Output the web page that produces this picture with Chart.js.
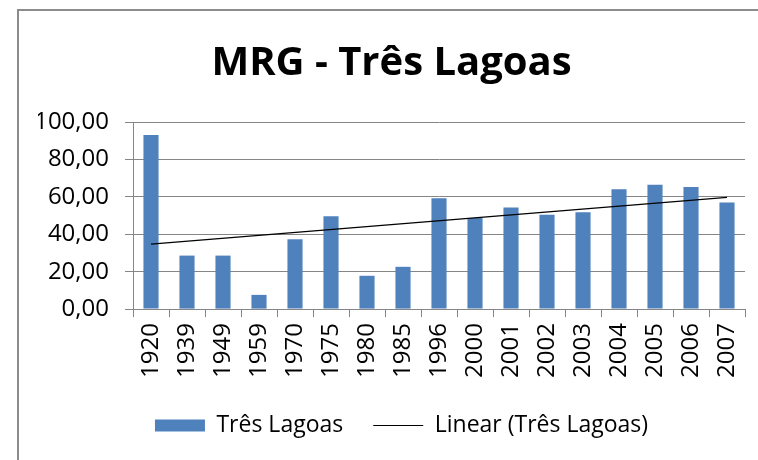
<!DOCTYPE html>
<html>
<head>
<meta charset="utf-8">
<script src="https://cdn.jsdelivr.net/npm/chart.js@4"></script>
<style>
  html, body { margin: 0; padding: 0; background: #fff; overflow: hidden; }
  #box {
    position: absolute; left: 17px; top: 9px;
    width: 741px; height: 451px;
    border-left: 2px solid #8c8c8c;
    border-top: 2px solid #8c8c8c;
    box-sizing: border-box;
  }
  #chart { display: block; }
</style>
</head>
<body>
<div id="box"><canvas id="chart" width="739" height="449"></canvas></div>
<script>
const years = ['1920', '1939', '1949', '1959', '1970', '1975', '1980', '1985', '1996',
    '2000', '2001', '2002', '2003', '2004', '2005', '2006', '2007']

const values = [93.1, 28.6, 28.6, 7.6, 37.4, 49.6, 17.8, 22.6, 59.3,
    48.7, 54.3, 50.4, 51.7, 64.0, 66.5, 65.2, 57.0]

// trend line: only its two ends
const trendStart = 34.7
const trendEnd = 59.7

const yTicks = [0, 20, 40, 60, 80, 100]

const trend = years.map((y, i) =>
    i === 0 ? trendStart : (i === years.length - 1 ? trendEnd : null))

const fontFamily = '"Open Sans", "Liberation Sans", sans-serif'

// the legend sits a little right of centre in the original
const legendShift = {
    id: 'legendShift',
    afterLayout(chart) {
        chart.legend.left += 10
        chart.legend.right += 10
    }
}

new Chart(document.getElementById('chart'), {
    type: 'bar',
    data: {
        labels: years,
        datasets: [{
            label: 'Três Lagoas',
            data: values,
            backgroundColor: '#4f81bd',
            borderWidth: 0,
            barPercentage: 0.42,
            categoryPercentage: 1,
            order: 1
        }, {
            type: 'line',
            label: 'Linear (Três Lagoas)',
            data: trend,
            borderColor: '#000',
            borderWidth: 1.2,
            pointRadius: 0,
            spanGaps: true,
            fill: false,
            order: 0
        }]
    },
    plugins: [legendShift],
    options: {
        responsive: false,
        animation: false,
        layout: { padding: { left: 19, right: 13, top: 0, bottom: 13 } },
        plugins: {
            title: {
                display: true,
                text: 'MRG - Três Lagoas',
                color: '#000',
                font: { family: fontFamily, size: 40, weight: 'bold' },
                padding: { top: 29, bottom: 34 }
            },
            legend: {
                position: 'bottom',
                labels: {
                    color: '#000',
                    font: { family: fontFamily, size: 23 },
                    usePointStyle: true,
                    pointStyleWidth: 50,
                    boxHeight: 12,
                    padding: 30,
                    sort: (a, b) => a.datasetIndex - b.datasetIndex,
                    generateLabels(chart) {
                        const items = Chart.defaults.plugins.legend.labels.generateLabels(chart)
                        items.forEach(it => {
                            it.pointStyle = it.datasetIndex === 0 ? 'rect' : 'line'
                            if (it.datasetIndex === 1) {
                                it.strokeStyle = '#000'
                                it.lineWidth = 1.2
                            }
                        })
                        return items
                    }
                }
            },
            tooltip: { enabled: false }
        },
        scales: {
            x: {
                afterFit(scale) {
                    scale.paddingLeft = 0
                    scale.paddingRight = 0
                },
                grid: {
                    offset: true,
                    drawOnChartArea: false,
                    color: '#868686',
                    tickLength: 8
                },
                border: { color: '#868686' },
                ticks: {
                    color: '#000',
                    font: { family: fontFamily, size: 24 },
                    minRotation: 90,
                    maxRotation: 90,
                    autoSkip: false,
                    padding: 6
                }
            },
            y: {
                min: 0,
                max: 100,
                afterBuildTicks(axis) {
                    axis.ticks = yTicks.map(v => ({ value: v }))
                },
                afterFit(scale) {
                    scale.width = 95
                },
                grid: { color: '#868686', tickLength: 8 },
                border: { color: '#868686' },
                ticks: {
                    color: '#000',
                    font: { family: fontFamily, size: 24 },
                    padding: 16,
                    callback: v => v.toFixed(2).replace('.', ',')
                }
            }
        }
    }
})
</script>
</body>
</html>
